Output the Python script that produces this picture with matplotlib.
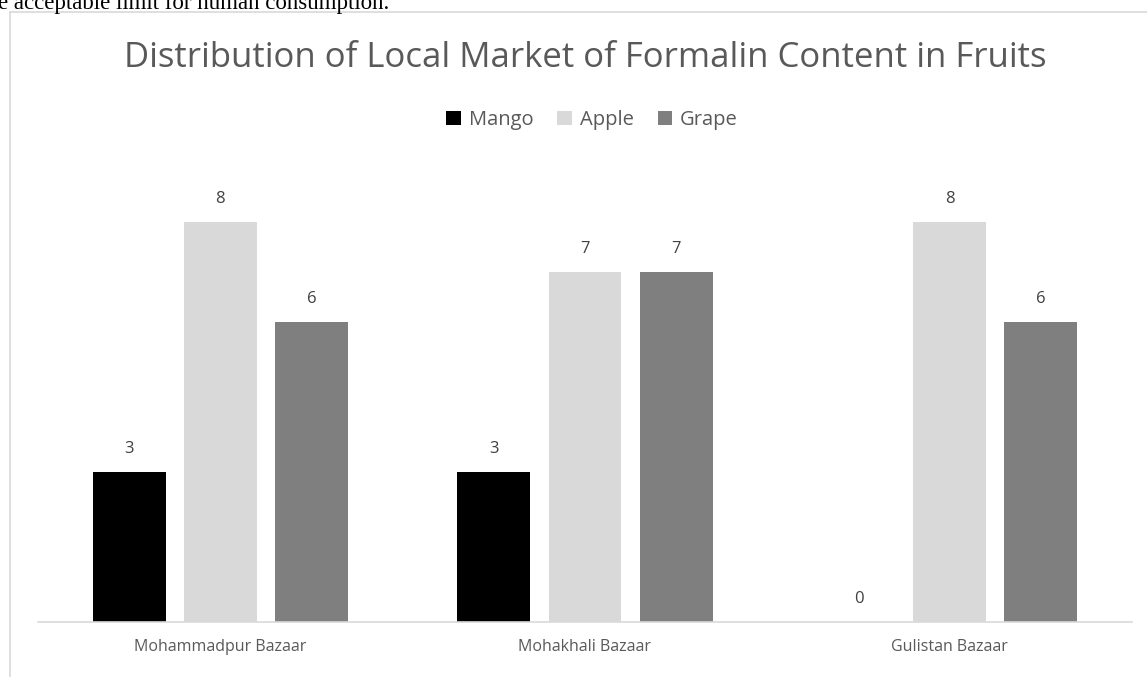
import matplotlib.pyplot as plt
from matplotlib.lines import Line2D

markets = ['Mohammadpur Bazaar', 'Mohakhali Bazaar', 'Gulistan Bazaar']
fruits = ['Mango', 'Apple', 'Grape']
mango = [3, 3, 0]
apple = [8, 7, 8]
grape = [6, 7, 6]
colors = ['#000000', '#d9d9d9', '#7f7f7f']

W, H = 1147, 677
fig = plt.figure(figsize=(W / 100, H / 100), dpi=100)
plt.rcParams['font.family'] = ['Open Sans', 'DejaVu Sans']

# chart frame (only top and left edges visible in the crop)
fig.add_artist(Line2D([10 / W, 10 / W], [0, 1 - 12 / H], color='#d9d9d9', lw=1.2, transform=fig.transFigure))
fig.add_artist(Line2D([10 / W, 1], [1 - 12 / H, 1 - 12 / H], color='#d9d9d9', lw=1.2, transform=fig.transFigure))

# cropped document text above the chart
fig.text(-2 / W, 1 - 9 / H, 'e acceptable limit for human consumption.', family='Liberation Serif',
         fontsize=16.5, va='baseline', ha='left', color='black')

ax = fig.add_axes([38 / W, 55 / H, 1094 / W, 450 / H])
x = range(len(markets))
width = 0.2
step = 0.25
for i, (name, vals) in enumerate(zip(fruits, [mango, apple, grape])):
    pos = [p + (i - 1) * step for p in x]
    bars = ax.bar(pos, vals, width, color=colors[i], label=name)
    for b, v in zip(bars, vals):
        ax.text(b.get_x() + b.get_width() / 2, v + 0.3, str(v), ha='center', va='bottom',
                fontsize=12, color='#404040')

ax.set_xlim(-0.5, 2.5)
ax.set_ylim(0, 9)
ax.set_yticks([])
ax.set_xticks(list(x))
ax.set_xticklabels(markets, fontsize=11.5, color='#595959')
ax.tick_params(axis='x', length=0, pad=12)
for s in ['top', 'right', 'left']:
    ax.spines[s].set_visible(False)
ax.spines['bottom'].set_color('#d9d9d9')
ax.spines['bottom'].set_linewidth(1.2)

fig.text(585 / W, 1 - 58 / H, 'Distribution of Local Market of Formalin Content in Fruits',
         ha='center', va='center', fontsize=25, color='#595959')

fig.legend(loc='center', bbox_to_anchor=(592 / W, 1 - 120 / H), ncol=3, frameon=False,
           fontsize=14.5, handlelength=0.7, handleheight=0.7, handletextpad=0.4, columnspacing=1.2,
           labelcolor='#595959')

fig.savefig('out.png', dpi=100)
